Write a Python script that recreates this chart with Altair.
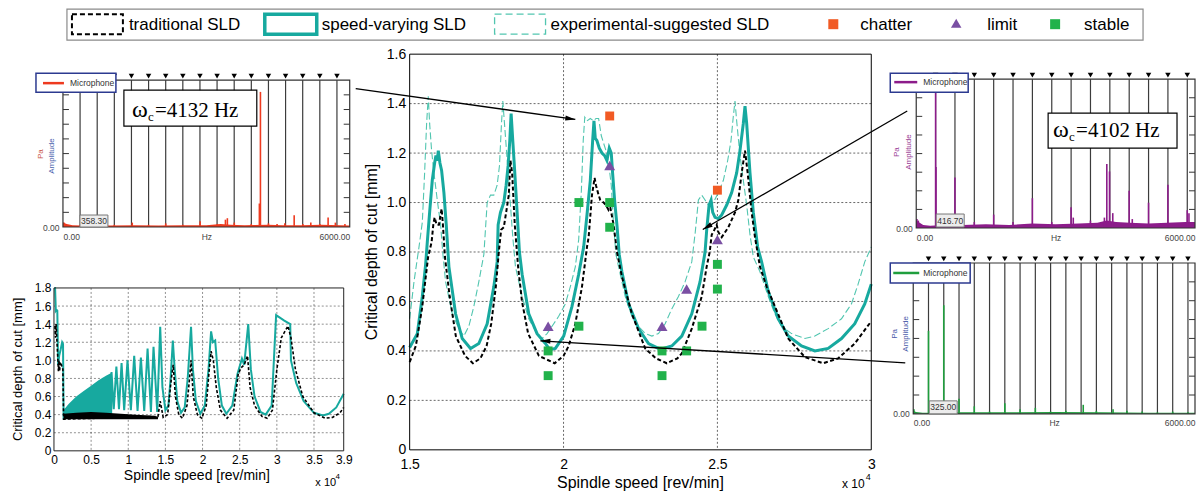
import altair as alt
import pandas as pd

# ------------------------------------------------------------------ colours / fonts
TEAL = '#17a99f'
LIGHT = '#52c6b0'
CHAT = '#f15a24'
LIM = '#7a4fa3'
STAB = '#21b24b'
SPEC_RED = '#ee3a1f'
SPEC_PURPLE = '#8c1c8a'
SPEC_GREEN = '#1f9e3d'
MIC_BLUE = '#2c3a90'
SANS = 'Liberation Sans'
SERIF = 'Liberation Serif'

# ------------------------------------------------------------------ main SLD data
trad_rpm = [15000, 15200, 15400, 15600, 15713, 15768, 15811, 15876, 15951, 16038, 16081, 16146, 16300, 16500, 16800, 17054,
            17300, 17500, 17650, 17800, 17897, 17973, 18059, 18135, 18221, 18275, 18329, 18416, 18524, 18650, 18850, 19200, 19713,
            20000, 20167, 20383, 20600, 20762, 20816, 20924, 21010, 21054, 21140, 21194, 21302, 21378, 21464, 21519, 21627, 21735,
            21897, 22221, 22653, 23000, 23356, 23700, 23843, 24167, 24491, 24650, 24750, 24815, 24902, 24977, 25032, 25140, 25248,
            25356, 25572, 25680, 25788, 25897, 25983, 26113, 26221, 26383, 26600, 26869, 27302, 27842, 28437, 28923, 29464, 30000]
trad_depth = [0.355, 0.42, 0.57, 0.78, 0.84, 0.91, 0.94, 0.91, 0.91, 0.975, 0.91, 0.78, 0.62, 0.46, 0.38, 0.35,
              0.37, 0.42, 0.51, 0.66, 0.80, 0.89, 0.90, 0.96, 1.03, 1.17, 1.12, 0.91, 0.74, 0.60, 0.47, 0.38, 0.35,
              0.38, 0.42, 0.51, 0.66, 0.82, 0.86, 1.03, 1.10, 1.07, 1.03, 1.01, 1.00, 0.99, 0.97, 0.98, 0.91, 0.80,
              0.70, 0.55, 0.41, 0.37, 0.35, 0.37, 0.39, 0.49, 0.62, 0.74, 0.80, 0.87, 0.89, 0.91, 0.88, 0.86, 0.88,
              0.90, 0.96, 1.01, 1.12, 1.21, 1.12, 0.96, 0.86, 0.74, 0.66, 0.58, 0.45, 0.375, 0.35, 0.37, 0.43, 0.52]

speed_rpm = [15000, 15249, 15411, 15519, 15573, 15649, 15735, 15811, 15854, 15897, 15930, 15984, 16038, 16113, 16189, 16276,
             16492, 16708, 16978, 17248, 17519, 17735, 17843, 17875, 17951, 18059, 18135, 18200, 18254, 18297, 18351, 18416, 18492, 18567,
             18654, 18870, 19140, 19410, 19551, 19735, 20005, 20275, 20492, 20654, 20762, 20870, 20946, 20989, 21032, 21086, 21162, 21248,
             21335, 21410, 21486, 21551, 21594, 21659, 21735, 21810, 21897, 22113, 22437, 22762, 23086, 23248, 23518, 23843, 24167, 24437,
             24599, 24653, 24729, 24794, 24848, 24923, 25032, 25140, 25302, 25464, 25626, 25734, 25842, 25897, 25951, 26059, 26167, 26308,
             26437, 26653, 26977, 27302, 27734, 28167, 28599, 29032, 29464, 29788, 30000]
speed_depth = [0.414, 0.47, 0.62, 0.75, 0.84, 0.96, 1.09, 1.16, 1.19, 1.17, 1.21, 1.16, 1.13, 1.04, 0.91, 0.74,
               0.55, 0.45, 0.41, 0.43, 0.51, 0.66, 0.76, 0.91, 0.96, 1.00, 1.07, 1.15, 1.25, 1.36, 1.25, 1.12, 0.96, 0.80,
               0.71, 0.55, 0.47, 0.43, 0.405, 0.41, 0.46, 0.58, 0.71, 0.82, 0.95, 1.09, 1.25, 1.33, 1.26, 1.25, 1.22, 1.20,
               1.19, 1.17, 1.22, 1.20, 1.12, 1.01, 0.91, 0.79, 0.72, 0.59, 0.49, 0.43, 0.41, 0.41, 0.42, 0.46, 0.55, 0.68,
               0.80, 0.89, 0.99, 1.01, 0.96, 0.94, 0.935, 0.95, 0.99, 1.04, 1.12, 1.21, 1.32, 1.39, 1.32, 1.12, 0.96, 0.82,
               0.76, 0.64, 0.53, 0.46, 0.42, 0.40, 0.41, 0.45, 0.51, 0.59, 0.67]

exp_rpm = [15000, 15141, 15303, 15411, 15486, 15551, 15605, 15649, 15713, 15789, 15897, 16005, 16081, 16167, 16384, 16600,
           16762, 16924, 17086, 17248, 17411, 17519, 17627, 17735, 17843, 17919, 17984, 18027, 18081, 18135, 18200, 18275, 18351, 18438,
           18654, 18870, 19140, 19302, 19465, 19627, 19843, 20059, 20221, 20383, 20492, 20580, 20640, 20690, 20762, 20870, 20978, 21054,
           21140, 21227, 21302, 21378, 21464, 21551, 21627, 21702, 21789, 22005, 22221, 22437, 22653, 22870, 23086, 23302, 23518, 23734,
           23951, 24167, 24280, 24383, 24491, 24599, 24707, 24869, 25032, 25194, 25334, 25442, 25518, 25572, 25626, 25734, 25842, 25951,
           26059, 26167, 26383, 26491, 26653, 26869, 27086, 27410, 27842, 28167, 28599, 29032, 29356, 29572, 29788, 30000]
exp_depth = [0.53, 0.68, 0.82, 0.92, 1.12, 1.32, 1.43, 1.32, 1.21, 1.12, 1.01, 0.91, 0.79, 0.68, 0.55, 0.49,
             0.46, 0.50, 0.58, 0.68, 0.79, 1.00, 1.03, 1.03, 1.07, 1.15, 1.32, 1.41, 1.32, 1.23, 1.12, 0.99, 0.86, 0.74,
             0.62, 0.53, 0.47, 0.45, 0.47, 0.50, 0.54, 0.59, 0.66, 0.74, 0.85, 1.05, 1.25, 1.345, 1.33, 1.34, 1.33, 1.34,
             1.34, 1.27, 1.24, 1.21, 1.16, 1.07, 0.91, 0.79, 0.74, 0.62, 0.54, 0.50, 0.47, 0.46, 0.47, 0.51, 0.57, 0.62,
             0.68, 0.76, 0.88, 1.01, 1.03, 1.01, 0.99, 1.00, 1.04, 1.09, 1.17, 1.25, 1.35, 1.41, 1.33, 1.19, 1.09, 0.99,
             0.87, 0.78, 0.72, 0.68, 0.62, 0.55, 0.50, 0.47, 0.45, 0.46, 0.49, 0.53, 0.59, 0.67, 0.76, 0.82]

chatter_rpm = [21500, 25000]
chatter_depth = [1.35, 1.05]
limit_rpm = [19500, 21500, 23200, 24000, 25000]
limit_depth = [0.50, 1.15, 0.50, 0.65, 0.85]
stable_rpm = [19500, 19500, 20500, 20500, 21500, 21500, 23200, 23200, 24000, 24500, 25000, 25000]
stable_depth = [0.40, 0.30, 0.50, 1.00, 1.00, 0.90, 0.40, 0.30, 0.40, 0.50, 0.75, 0.65]

main_x_ticks = [15000, 20000, 25000, 30000]
main_y_ticks = [0, 0.2, 0.4, 0.6, 0.8, 1.0, 1.2, 1.4, 1.6]

# arrows (annotation, in data units of the main chart)
arrow_id = ['a', 'a', 'b', 'b', 'c', 'c']
arrow_rpm = [13247, 20383, 31169, 24524, 31104, 19248]
arrow_depth = [1.461, 1.336, 1.370, 0.891, 0.352, 0.441]
head_rpm = [20383, 24524, 19248]
head_depth = [1.336, 0.891, 0.441]
head_angle = [98, 239.9, 273.4]

# ------------------------------------------------------------------ small (full-range) SLD data
small_teal_rpm = [60, 150, 250, 330, 450, 560, 700, 900, 1100, 1220, 1300,
                  7700, 7750, 8050, 8400, 8750, 9100, 9450, 9900, 10350, 10800, 11250, 11700, 12150, 12600, 13050, 13400, 13900, 14300, 14600, 15000,
                  15400, 15700, 16000, 16250, 16600, 17100, 17600, 18000, 18450, 18700, 19100, 19700, 20300, 20800, 21150, 21400, 21700, 22100, 22600, 23200,
                  24000, 24700, 25300, 25600, 26150, 26500, 27000, 27800, 28500, 29300, 29900, 31000, 31800, 31900, 32600, 33600, 35000, 36200, 37000, 38000, 39000]
small_teal_depth = [1.8, 1.8, 1.55, 1.56, 1.55, 0.95, 1.05, 1.12, 1.2, 1.18, 0.36,
                    0.42, 0.87, 0.46, 0.93, 0.46, 0.97, 0.45, 1.00, 0.45, 1.05, 0.44, 1.03, 0.44, 1.13, 0.43, 1.15, 0.43, 1.37, 0.7, 0.45,
                    0.5, 0.8, 1.22, 0.9, 0.55, 0.42, 0.48, 0.8, 1.37, 0.9, 0.55, 0.41, 0.5, 0.9, 1.32, 1.2, 1.22, 0.8, 0.5, 0.41,
                    0.5, 0.85, 1.02, 0.95, 1.4, 0.9, 0.6, 0.43, 0.40, 0.5, 1.5, 1.44, 1.4, 1.0, 0.75, 0.55, 0.42, 0.39, 0.41, 0.48, 0.63]
small_teal_band_rpm = [1300, 2000, 3000, 4000, 5000, 6000, 7000, 7700]
small_teal_band_hi = [0.45, 0.52, 0.60, 0.66, 0.72, 0.78, 0.83, 0.86]
small_teal_band_lo = [0.36, 0.36, 0.37, 0.38, 0.39, 0.40, 0.41, 0.42]

small_black_rpm = [120, 200, 280, 350, 600, 680, 760, 850, 1000, 1200, 1300,
                   14000, 14300, 14700, 15300, 15800, 16050, 16350, 16800, 17300, 17900, 18250, 18450, 18750, 19300, 19900,
                   20500, 20900, 21150, 21450, 21850, 22400, 23300, 24200, 24800, 25200, 25600, 26050, 26400, 27000, 28000,
                   28700, 29400, 30000, 30600, 31500, 31900, 32500, 33500, 35000, 36500, 37500, 38500, 39000]
small_black_depth = [1.38, 1.25, 1.4, 1.3, 0.88, 1.0, 0.88, 0.98, 0.95, 0.9, 0.35,
                     0.38, 0.55, 0.37, 0.4, 0.8, 0.95, 0.6, 0.4, 0.36, 0.5, 0.8, 1.0, 0.6, 0.4, 0.36,
                     0.5, 0.9, 1.1, 1.0, 0.7, 0.45, 0.36, 0.45, 0.85, 0.92, 0.95, 1.05, 0.7, 0.5, 0.38,
                     0.36, 0.45, 0.9, 1.25, 1.38, 1.25, 0.9, 0.6, 0.42, 0.36, 0.37, 0.42, 0.48]
small_black_band_rpm = [1300, 3000, 5000, 7000, 9000, 11000, 13000, 14000]
small_black_band_hi = [0.41, 0.42, 0.43, 0.42, 0.41, 0.40, 0.39, 0.38]
small_black_band_lo = [0.35, 0.35, 0.35, 0.35, 0.35, 0.35, 0.35, 0.35]

small_x_ticks = [0, 5000, 10000, 15000, 20000, 25000, 30000, 35000, 39000]
small_y_ticks = [0, 0.2, 0.4, 0.6, 0.8, 1.0, 1.2, 1.4, 1.6, 1.8]

# ------------------------------------------------------------------ microphone spectra
specL_f0, specL_n = 358.3, 16
specL_peak_f = [20, 60, 358, 730, 1075, 1450, 1790, 2150, 2510, 2870, 3230, 3400, 3440, 3585, 3940, 4110, 4132, 4300, 4480, 4643,
                4838, 5020, 5186, 5375, 5548, 5700, 5900]
specL_peak_a = [0.03, 0.02, 0.015, 0.07, 0.015, 0.03, 0.015, 0.025, 0.015, 0.04, 0.02, 0.05, 0.06, 0.03, 0.02, 0.16, 0.92, 0.025, 0.02, 0.025,
                0.08, 0.02, 0.03, 0.02, 0.065, 0.03, 0.02]
specL_floor_f = [0, 80, 200, 400, 700, 1000, 1500, 2000, 2500, 3000, 3300, 3500, 3800, 4000, 4300, 4600, 5000, 5400, 5800, 6000]
specL_floor_a = [0.03, 0.02, 0.012, 0.01, 0.012, 0.01, 0.012, 0.01, 0.012, 0.012, 0.02, 0.015, 0.012, 0.014, 0.015, 0.012, 0.012, 0.015, 0.012, 0.01]

specR1_f0, specR1_n = 416.7, 14
specR1_peak_f = [15, 45, 417, 425, 833, 1250, 1667, 2083, 2500, 2917, 3333, 3380, 3750, 4050, 4102, 4160, 4230, 4583, 4650, 5000, 5417, 5833, 5870]
specR1_peak_a = [0.06, 0.05, 0.97, 0.41, 0.34, 0.04, 0.09, 0.04, 0.20, 0.04, 0.14, 0.07, 0.05, 0.07, 0.43, 0.38, 0.10, 0.25, 0.06, 0.17, 0.29, 0.12, 0.10]
specR1_floor_f = [0, 50, 150, 300, 600, 1000, 1500, 2000, 2500, 3000, 3500, 3900, 4100, 4300, 4600, 5000, 5400, 5800, 6000]
specR1_floor_a = [0.05, 0.04, 0.02, 0.015, 0.02, 0.02, 0.025, 0.02, 0.03, 0.025, 0.03, 0.035, 0.05, 0.04, 0.035, 0.03, 0.035, 0.04, 0.04]

specR2_f0, specR2_n = 325.0, 18
specR2_peak_f = [15, 325, 650, 975, 1300, 1625, 1950, 2275, 2600, 2925, 3250, 3620, 3900, 4255, 4550, 4875, 5200, 5525, 5850]
specR2_peak_a = [0.03, 0.55, 0.72, 0.10, 0.05, 0.015, 0.07, 0.03, 0.04, 0.015, 0.02, 0.06, 0.02, 0.03, 0.02, 0.015, 0.01, 0.015, 0.01]
specR2_floor_f = [0, 60, 200, 500, 1000, 2000, 3000, 4000, 5000, 6000]
specR2_floor_a = [0.02, 0.012, 0.008, 0.008, 0.01, 0.01, 0.012, 0.01, 0.008, 0.008]

legend_labels = ['traditional SLD', 'speed-varying SLD', 'experimental-suggested SLD', 'chatter', 'limit', 'stable']

# ------------------------------------------------------------------ helpers
ONE = pd.DataFrame({'k': [0]})


def pt(x, y):
    return alt.Chart(ONE).mark_point(opacity=0, size=1, strokeWidth=0).encode(x=alt.value(x), y=alt.value(y))


def box(x1, y1, x2, y2, **kw):
    return alt.Chart(ONE).mark_rect(**kw).encode(x=alt.value(x1), x2=alt.value(x2), y=alt.value(y1), y2=alt.value(y2))


def txt(x, y, s, **kw):
    kw.setdefault('font', SANS)
    return alt.Chart(ONE).mark_text(text=s, **kw).encode(x=alt.value(x), y=alt.value(y))


def seg(x1, x2, y, **kw):
    return alt.Chart(ONE).mark_rule(**kw).encode(x=alt.value(x1), x2=alt.value(x2), y=alt.value(y))


def sym(x, y, **kw):
    return alt.Chart(ONE).mark_point(filled=True, opacity=1, **kw).encode(x=alt.value(x), y=alt.value(y))


# ------------------------------------------------------------------ main chart
# group 438x147 (layout cell); plot drawn at x 0..462, y -26..370 through explicit scale ranges
MG_W, MG_H = 438, 147
ML, MR, MT, MB = 0, 462, -26, 370
xs = alt.Scale(domain=[15000, 30000], range=[ML, MR], nice=False, zero=False)
ys = alt.Scale(domain=[0, 1.6], range=[MB, MT], nice=False, zero=False)
main_xax = alt.Axis(values=main_x_ticks, labelExpr="datum.value / 10000", labelFlush=False, grid=False, ticks=False,
                    domain=False, labelFontSize=14, labelColor='black', labelPadding=8, labelOverlap=False,
                    title=None, offset=MB - MG_H)
main_yax = alt.Axis(values=main_y_ticks, labelExpr="datum.value == 0 ? '0' : format(datum.value, '.1f')",
                    grid=False, ticks=False, domain=False, labelFontSize=14, labelColor='black', labelPadding=4,
                    labelOverlap=False, title=None)
MX = alt.X('rpm:Q', scale=xs, axis=main_xax)
MY = alt.Y('depth:Q', scale=ys, axis=main_yax)

trad_df = pd.DataFrame({'rpm': trad_rpm, 'depth': trad_depth})
speed_df = pd.DataFrame({'rpm': speed_rpm, 'depth': speed_depth})
exp_df = pd.DataFrame({'rpm': exp_rpm, 'depth': exp_depth})
chatter_df = pd.DataFrame({'rpm': chatter_rpm, 'depth': chatter_depth})
limit_df = pd.DataFrame({'rpm': limit_rpm, 'depth': limit_depth})
stable_df = pd.DataFrame({'rpm': stable_rpm, 'depth': stable_depth})
arrow_df = pd.DataFrame({'rpm': arrow_rpm, 'depth': arrow_depth, 'arrow': arrow_id})
head_df = pd.DataFrame({'rpm': head_rpm, 'depth': head_depth, 'ang': head_angle})
mgx_df = pd.DataFrame({'rpm': main_x_ticks[1:-1]})
mgy_df = pd.DataFrame({'depth': main_y_ticks[1:-1]})
ARROW_PATH = 'M0,0L-0.5,2L0.5,2Z'

# legend (drawn in the main chart's frame of reference, outside its plot)
LX, LY = -343, -71
leg_kw = dict(align='left', baseline='middle', fontSize=17, color='black')
legend_layers = [
    box(LX, LY, LX + 1077, LY + 31, fill='white', stroke='#8a8a8a', strokeWidth=1.2),
    box(LX + 5, LY + 5, LX + 56, LY + 25, fill='white', stroke='black', strokeWidth=2, strokeDash=[5, 3]),
    txt(LX + 62, LY + 16, legend_labels[0], **leg_kw),
    box(LX + 198, LY + 5, LX + 250, LY + 25, fill='white', stroke=TEAL, strokeWidth=3.5),
    txt(LX + 255, LY + 16, legend_labels[1], **leg_kw),
    box(LX + 428, LY + 5, LX + 479, LY + 25, fill='white', stroke=LIGHT, strokeWidth=1.3, strokeDash=[7, 4]),
    txt(LX + 484, LY + 16, legend_labels[2], **leg_kw),
    sym(LX + 767, LY + 15, shape='square', size=100, color=CHAT),
    txt(LX + 794, LY + 16, legend_labels[3], **leg_kw),
    sym(LX + 890, LY + 14, shape='triangle-up', size=110, color=LIM),
    txt(LX + 921, LY + 16, legend_labels[4], **leg_kw),
    sym(LX + 989, LY + 15, shape='square', size=100, color=STAB),
    txt(LX + 1018, LY + 16, legend_labels[5], **leg_kw),
]

grid_kw = dict(color='black', strokeWidth=0.7, strokeDash=[2, 2], opacity=0.85)
main = alt.layer(
    pt(-401, -71),
    alt.Chart(mgx_df).mark_rule(**grid_kw).encode(x=MX, y=alt.value(MT), y2=alt.value(MB)),
    alt.Chart(mgy_df).mark_rule(**grid_kw).encode(y=MY, x=alt.value(ML), x2=alt.value(MR)),
    alt.Chart(exp_df).mark_line(color=LIGHT, strokeWidth=1.1, strokeDash=[7, 3]).encode(x=MX, y=MY),
    alt.Chart(speed_df).mark_line(color=TEAL, strokeWidth=3).encode(x=MX, y=MY),
    alt.Chart(trad_df).mark_line(color='black', strokeWidth=2, strokeDash=[4, 2.5]).encode(x=MX, y=MY),
    alt.Chart(stable_df).mark_point(shape='square', filled=True, opacity=1, color=STAB, size=80).encode(x=MX, y=MY),
    alt.Chart(chatter_df).mark_point(shape='square', filled=True, opacity=1, color=CHAT, size=80).encode(x=MX, y=MY),
    alt.Chart(limit_df).mark_point(shape='triangle-up', filled=True, opacity=1, color=LIM, size=120).encode(x=MX, y=MY),
    alt.Chart(arrow_df).mark_line(color='black', strokeWidth=1.3, clip=False).encode(x=MX, y=MY, detail='arrow:N'),
    alt.Chart(head_df).mark_point(shape=ARROW_PATH, filled=True, opacity=1, color='black', size=100, clip=False).encode(
        x=MX, y=MY, angle=alt.Angle('ang:Q', scale=None)),
    box(ML, MT, MR, MB, fill='white', fillOpacity=0, stroke='black', strokeWidth=1),
    txt(-38, (MT + MB) / 2, 'Critical depth of cut [mm]', angle=270, fontSize=16, color='black'),
    txt(231, MB + 33, 'Spindle speed [rev/min]', fontSize=16, color='black'),
    txt(444, MB + 34, 'x 10', fontSize=12, color='black'),
    txt(459, MB + 27, '4', fontSize=9, color='black'),
    *legend_layers,
).properties(width=MG_W, height=MG_H)

# ------------------------------------------------------------------ small full-range chart
SW, SH = 290, 163
sxs = alt.Scale(domain=[0, 39000], nice=False, zero=False)
sys_ = alt.Scale(domain=[0, 1.8], nice=False, zero=False)
small_xax = alt.Axis(values=small_x_ticks, labelExpr="datum.value / 10000", labelFlush=False, grid=False, ticks=False,
                     domain=False, labelFontSize=12, labelColor='black', labelPadding=4, labelOverlap=False, title=None)
small_yax = alt.Axis(values=small_y_ticks, labelExpr="datum.value == 0 ? '0' : format(datum.value, '.1f')",
                     grid=False, ticks=False, domain=False, labelFontSize=12, labelColor='black', labelPadding=3,
                     labelOverlap=False, title=None)
SX = alt.X('rpm:Q', scale=sxs, axis=small_xax)
SY = alt.Y('depth:Q', scale=sys_, axis=small_yax)

st_df = pd.DataFrame({'rpm': small_teal_rpm, 'depth': small_teal_depth})
stb_df = pd.DataFrame({'rpm': small_teal_band_rpm, 'hi': small_teal_band_hi, 'lo': small_teal_band_lo})
sb_df = pd.DataFrame({'rpm': small_black_rpm, 'depth': small_black_depth})
sbb_df = pd.DataFrame({'rpm': small_black_band_rpm, 'hi': small_black_band_hi, 'lo': small_black_band_lo})
sgx_df = pd.DataFrame({'rpm': small_x_ticks[1:-1]})
sgy_df = pd.DataFrame({'depth': small_y_ticks[1:-1]})
sgrid_kw = dict(color='#333', strokeWidth=0.6, strokeDash=[2, 2], opacity=0.9)

small = alt.layer(
    alt.Chart(sgx_df).mark_rule(**sgrid_kw).encode(x=SX, y=alt.value(0), y2=alt.value(SH)),
    alt.Chart(sgy_df).mark_rule(**sgrid_kw).encode(y=SY, x=alt.value(0), x2=alt.value(SW)),
    alt.Chart(stb_df).mark_area(color=TEAL, opacity=1).encode(
        x=SX, y=alt.Y('hi:Q', scale=sys_, axis=small_yax), y2='lo:Q'),
    alt.Chart(st_df).mark_line(color=TEAL, strokeWidth=2).encode(x=SX, y=SY),
    alt.Chart(sbb_df).mark_area(color='black', opacity=1).encode(
        x=SX, y=alt.Y('hi:Q', scale=sys_, axis=small_yax), y2='lo:Q'),
    alt.Chart(sb_df).mark_line(color='black', strokeWidth=1.6, strokeDash=[3, 2]).encode(x=SX, y=SY),
    box(0, 0, SW, SH, fill='white', fillOpacity=0, stroke='#222', strokeWidth=1),
    txt(-36, SH / 2, 'Critical depth of cut [mm]', angle=270, fontSize=13, color='black'),
    txt(143, SH + 25, 'Spindle speed [rev/min]', fontSize=14, color='black'),
    txt(272, SH + 32, 'x 10', fontSize=11, color='black'),
    txt(284, SH + 26, '4', fontSize=8, color='black'),
).properties(width=SW, height=SH)


# ------------------------------------------------------------------ spectrum panels
def spectrum(pk_f, pk_a, fl_f, fl_a, f0, nh, color, nt, g, c):
    gw, gh, dx, dy, pw, ph = g
    L, R, T, B = dx, dx + pw, dy, dy + ph
    harm = pd.DataFrame({'f': [f0 * k for k in range(1, nh + 1)]})
    pk = pd.DataFrame({'f': pk_f, 'a': pk_a})
    fl = pd.DataFrame({'f': fl_f, 'a': fl_a})
    tk = pd.DataFrame({'a': [i / nt for i in range(1, nt)]})
    xsc = alt.Scale(domain=[0, 6000], range=[L, R], nice=False, zero=False)
    ysc = alt.Scale(domain=[0, 1], range=[B, T], nice=False, zero=False)
    xax = alt.Axis(values=[0, 3000, 6000],
                   labelExpr="datum.value == 3000 ? 'Hz' : format(datum.value, '.2f')",
                   labelFlush=True, ticks=False, domain=False, grid=False, title=None,
                   labelFontSize=8.5, labelColor='#444', labelPadding=5, labelOverlap=False, offset=B - gh)
    yax = alt.Axis(values=[0], labelExpr="'0.00'", ticks=False, domain=False, grid=False, title=None,
                   labelFontSize=8.5, labelColor='#444', labelPadding=4, offset=-L)
    X = alt.X('f:Q', scale=xsc, axis=xax)
    Y = alt.Y('a:Q', scale=ysc, axis=yax)

    def P(x, y):
        return x + dx, y + dy

    layers = [
        alt.Chart(harm).mark_rule(color='#3c3c3c', strokeWidth=1.2).encode(x=X, y=alt.value(T), y2=alt.value(B)),
        alt.Chart(harm).mark_point(shape='triangle-down', filled=True, opacity=1, color='black', size=30,
                                   clip=False).encode(x=X, y=alt.value(T - 4)),
        alt.Chart(fl).mark_area(color=color, opacity=1).encode(x=X, y=Y),
        alt.Chart(pk).mark_rule(color=color, strokeWidth=1.6).encode(x=X, y=Y, y2=alt.datum(0)),
        alt.Chart(tk).mark_rule(color='#333').encode(y=Y, x=alt.value(L), x2=alt.value(L + 6)),
        alt.Chart(tk).mark_rule(color='#333').encode(y=Y, x=alt.value(R - 6), x2=alt.value(R)),
        box(L, T, R, B, fill='white', fillOpacity=0, stroke='#333', strokeWidth=1.2),
        txt(*P(*c['pa']), 'Pa', angle=270, fontSize=8, color=c['pa_col']),
        txt(*P(*c['amp']), 'Amplitude', angle=270, fontSize=8, color=c['amp_col']),
        box(*P(c['mic'][0], c['mic'][1]), *P(c['mic'][2], c['mic'][3]), fill='white', stroke=MIC_BLUE, strokeWidth=1.5),
        seg(c['mic_line'][0] + dx, c['mic_line'][1] + dx, c['mic_line'][2] + dy, color=color, strokeWidth=2.5),
        txt(*P(*c['mic_text']), 'Microphone', align='left', baseline='middle', fontSize=8.5, color='#333'),
        box(*P(c['hbox'][0], c['hbox'][1]), *P(c['hbox'][2], c['hbox'][3]), fill='#ececec', stroke='#777', strokeWidth=1),
        txt(*P(c['hlabel'][0], c['hlabel'][1]), c['hlabel'][2], align='center', baseline='middle',
            fontSize=8.5, color='#333'),
    ]
    if 'omega' in c:
        o = c['omega']
        bx = o['box']
        ox, ob = P(o['x'], o['base'])
        layers += [
            box(*P(bx[0], bx[1]), *P(bx[2], bx[3]), fill='white', stroke='black', strokeWidth=1.2),
            txt(ox, ob, 'ω', font=SERIF, fontSize=24, align='left', baseline='alphabetic', color='black'),
            txt(ox + 16, ob + 4, 'c', font=SERIF, fontSize=13, align='left', baseline='alphabetic', color='black'),
            txt(ox + 23, ob, o['text'], font=SERIF, fontSize=21, align='left', baseline='alphabetic', color='black'),
        ]
    return alt.layer(*layers).properties(width=gw, height=gh)


# geometry: (group width, group height, plot x offset, plot y offset, plot width, plot height)
specL = spectrum(specL_peak_f, specL_peak_a, specL_floor_f, specL_floor_a, specL_f0, specL_n, SPEC_RED, 10,
                 (287, 147, 9, 0, 287, 147),
                 dict(pa=(-22, 74), amp=(-11, 76), pa_col='#c9574a', amp_col='#4a63ad',
                      mic=(-27, -7, 53, 12), mic_line=(-20, 1, 3), mic_text=(7, 3),
                      hbox=(17, 135, 45, 147), hlabel=(31, 141, '358.30'),
                      omega=dict(box=(61, 10, 194, 46), x=69, base=37, text='=4132 Hz')))
specR1 = spectrum(specR1_peak_f, specR1_peak_a, specR1_floor_f, specR1_floor_a, specR1_f0, specR1_n, SPEC_PURPLE, 8,
                  (280, 147, 3, -1, 279, 149),
                  dict(pa=(-19, 73), amp=(-7, 73), pa_col='#9a3d96', amp_col='#9a3d96',
                       mic=(-26, -6, 52, 13), mic_line=(-22, 1, 3), mic_text=(7, 3),
                       hbox=(20, 135, 48, 148), hlabel=(34, 141.5, '416.70'),
                       omega=dict(box=(132, 34, 261, 69), x=137, base=58, text='=4102 Hz')))
specR2 = spectrum(specR2_peak_f, specR2_peak_a, specR2_floor_f, specR2_floor_a, specR2_f0, specR2_n, SPEC_GREEN, 8,
                  (282, 126, 0, -25, 282, 151),
                  dict(pa=(-18, 71), amp=(-7, 71), pa_col='#4a5aa8', amp_col='#4a5aa8',
                       mic=(-23, 0, 57, 20), mic_line=(-20, 6, 10), mic_text=(10, 10),
                       hbox=(16, 138, 44, 151), hlabel=(30, 144.5, '325.00')))

spacer = alt.Chart(ONE).mark_point(opacity=0, size=1, strokeWidth=0).encode(
    x=alt.value(0), y=alt.value(0)).properties(width=1, height=1)

# ------------------------------------------------------------------ layout: 3x2 grid aligned on plot areas
chart = alt.concat(
    specL, main, specR1,
    small, spacer, specR2,
    columns=3, spacing={'row': 61, 'column': 66}, bounds='flush', align='each'
).properties(
    padding={'left': 0, 'top': 0, 'right': 0, 'bottom': 0}, background='white'
).configure_view(stroke=None).configure_axis(
    labelFont=SANS, titleFont=SANS
).configure_text(font=SANS)

chart.save("out.html", embed_options={"renderer": "svg", "actions": False})
